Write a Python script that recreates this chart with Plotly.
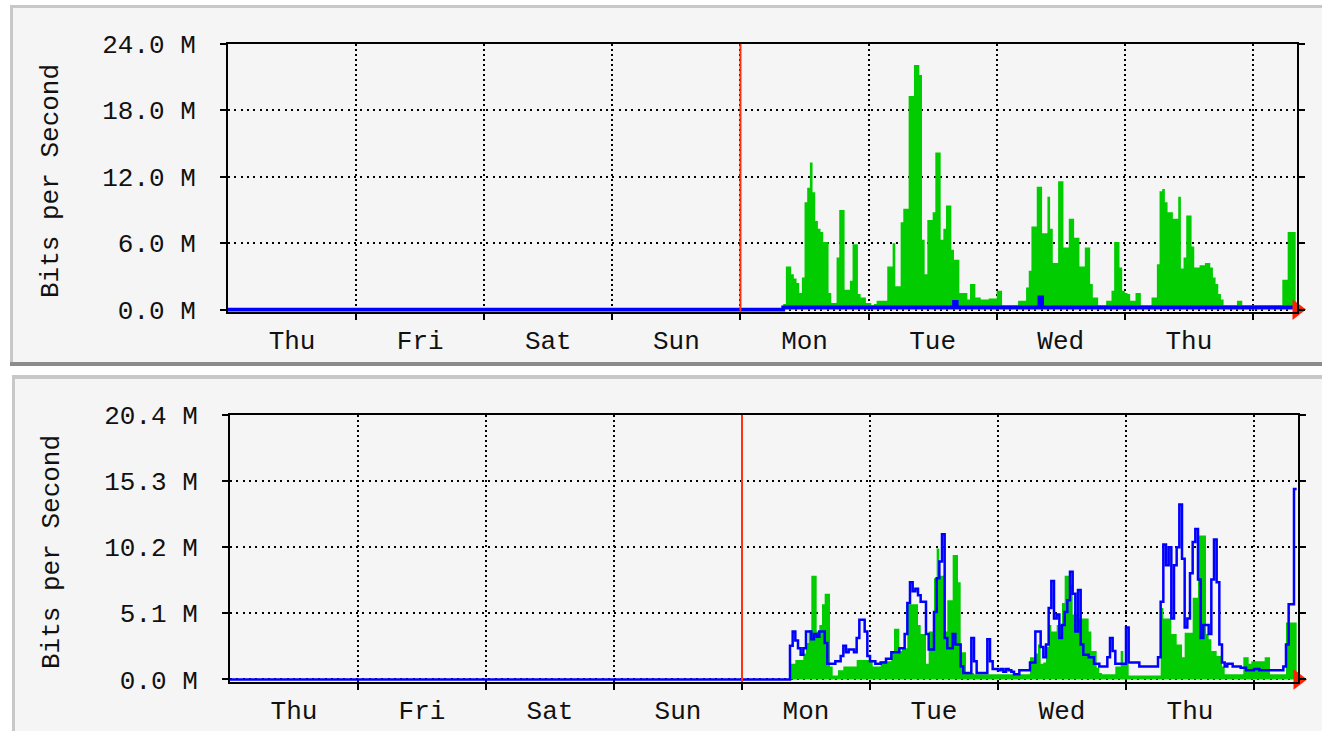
import plotly.graph_objects as go

# ---------------- data ----------------
W, H = 1322, 731
DAY_LABELS = ["Thu", "Fri", "Sat", "Sun", "Mon", "Tue", "Wed", "Thu"]
DAY_CENTERS = [12, 36, 60, 84, 108, 132, 156, 180]
DAY_BOUNDARIES = [24, 48, 72, 96, 120, 144, 168, 192]
SAMPLE_HOURS = 0.5          # 30-minute averages
IDLE_HOURS = 104            # no traffic recorded before this point
WEEK_START_HOUR = 96        # red week-start marker (Mon 00:00)
X_END = 200.25

top_tickvals = [0, 6, 12, 18, 24]
top_ticktext = ["0.0 M", "6.0 M", "12.0 M", "18.0 M", "24.0 M"]
bot_tickvals = [0, 5.1, 10.2, 15.3, 20.4]
bot_ticktext = ["0.0 M", "5.1 M", "10.2 M", "15.3 M", "20.4 M"]

# Mbit/s, one value per 30 min, starting at IDLE_HOURS
top_in = [
    0.5, 3.9, 3.9, 3.2, 2.8, 2.4, 1.5, 2.9, 9.7, 11.0, 13.3, 10.6, 8.0, 7.3, 7.0, 6.1,
    6.1, 1.5, 0.6, 0.6, 4.7, 9.0, 9.0, 1.8, 1.8, 2.6, 5.9, 5.9, 1.4, 1.1, 1.1, 0.6,
    0.6, 0.4, 0.5, 0.8, 0.8, 0.8, 0.8, 3.9, 3.9, 6.0, 2.1, 2.1, 7.9, 9.1, 9.1, 19.3,
    19.3, 22.1, 22.1, 21.2, 6.3, 3.2, 8.1, 8.1, 8.8, 14.2, 14.2, 6.3, 7.3, 9.4, 9.4, 5.4,
    4.5, 4.5, 1.5, 1.5, 1.5, 0.9, 2.3, 2.3, 1.1, 1.1, 0.9, 0.9, 0.9, 1.0, 1.0, 1.0,
    1.7, 1.7, 0.4, 0.4, 0.4, 0.4, 0.4, 0.4, 0.8, 0.8, 0.8, 2.0, 3.5, 7.5, 7.5, 11.1,
    11.1, 6.9, 6.9, 10.2, 7.3, 4.2, 4.2, 11.6, 11.6, 5.6, 5.6, 8.2, 8.2, 6.5, 6.5, 3.9,
    3.9, 5.6, 5.6, 2.3, 1.1, 1.1, 0.4, 0.4, 0.4, 0.8, 0.8, 1.7, 6.1, 6.1, 3.8, 1.7,
    1.5, 1.4, 0.8, 0.8, 1.5, 1.5, 0.4, 0.4, 0.4, 0.4, 1.1, 1.1, 4.1, 10.7, 10.9, 9.7,
    8.8, 8.8, 8.2, 8.2, 10.2, 3.7, 4.7, 8.5, 8.5, 5.7, 3.8, 3.8, 4.0, 4.0, 4.2, 4.2,
    3.8, 2.9, 2.3, 1.4, 0.9, 0.4, 0.4, 0.4, 0.4, 0.4, 0.8, 0.8, 0.4, 0.4, 0.4, 0.4,
    0.4, 0.4, 0.4, 0.4, 0.4, 0.4, 0.4, 0.4, 0.4, 0.4, 0.4, 2.7, 2.7, 7.0, 7.0, 7.0,
]
top_out = [0.2] * 64 + [0.7] + [0.2] * 31 + [1.1] + [0.2] * 95

bot_in = [
    0.0, 0.0, 1.2, 1.2, 1.5, 1.5, 1.5, 2.0, 2.8, 3.8, 8.0, 8.0, 3.7, 4.2, 5.8, 6.6,
    6.6, 1.0, 0.3, 0.3, 0.7, 0.7, 1.0, 1.0, 1.0, 1.0, 1.0, 1.5, 1.5, 1.5, 1.5, 1.5,
    1.5, 1.0, 1.0, 1.0, 1.4, 1.4, 1.4, 1.4, 2.2, 3.9, 3.9, 2.2, 2.4, 2.4, 5.8, 5.8,
    5.8, 5.8, 4.2, 3.5, 3.5, 1.2, 3.7, 3.7, 7.8, 10.1, 8.0, 8.0, 3.7, 6.1, 6.1, 9.6,
    9.6, 7.5, 2.1, 2.1, 0.5, 0.5, 0.5, 0.4, 0.4, 0.4, 0.4, 0.4, 0.4, 0.4, 0.4, 0.4,
    0.4, 0.4, 0.4, 0.4, 0.4, 0.4, 0.4, 0.4, 0.4, 0.4, 0.4, 0.4, 1.7, 1.7, 2.0, 2.7,
    1.2, 1.3, 2.5, 4.2, 3.7, 3.7, 4.2, 4.2, 5.9, 8.0, 8.0, 7.3, 5.0, 5.0, 4.7, 4.7,
    4.7, 4.7, 3.7, 2.2, 2.2, 0.9, 0.5, 0.4, 0.4, 0.4, 0.4, 0.4, 1.0, 1.0, 2.2, 1.2,
    1.2, 0.3, 0.3, 0.3, 0.3, 0.3, 0.3, 0.3, 0.3, 0.3, 0.3, 0.3, 0.3, 5.5, 4.7, 4.7,
    4.7, 3.5, 3.5, 2.7, 2.7, 1.7, 3.6, 3.6, 3.6, 6.3, 6.3, 11.1, 11.1, 11.1, 3.5, 3.1,
    2.2, 2.2, 1.8, 1.8, 1.0, 0.4, 0.4, 0.4, 0.4, 0.4, 0.4, 0.4, 1.7, 1.7, 1.2, 1.4,
    1.4, 1.4, 1.4, 1.4, 1.7, 1.7, 0.4, 0.4, 0.4, 0.4, 0.4, 0.4, 4.4, 4.4, 4.4, 4.4,
]
bot_out = [
    0.0, 0.0, 2.6, 3.7, 3.0, 2.4, 1.9, 2.4, 3.7, 3.7, 3.1, 3.5, 3.3, 3.7, 3.7, 2.8,
    1.2, 1.2, 1.2, 1.4, 1.4, 1.8, 2.6, 2.1, 2.3, 2.3, 2.1, 3.2, 4.6, 4.6, 3.7, 1.8,
    1.4, 1.4, 1.2, 1.2, 1.3, 1.3, 1.6, 1.6, 2.1, 2.1, 2.1, 2.4, 2.4, 3.5, 5.9, 7.5,
    6.8, 7.0, 6.5, 6.0, 6.0, 3.5, 2.3, 2.3, 5.2, 7.8, 9.1, 11.2, 3.2, 2.4, 2.4, 3.5,
    2.7, 2.7, 1.0, 0.5, 0.5, 0.5, 3.2, 1.4, 0.5, 0.5, 0.5, 0.5, 3.1, 1.4, 0.8, 0.8,
    0.7, 0.8, 0.6, 0.8, 0.7, 0.6, 0.4, 0.4, 0.7, 0.7, 0.7, 0.7, 1.3, 1.3, 3.7, 3.7,
    2.5, 1.7, 2.7, 5.5, 7.6, 4.7, 5.0, 3.2, 4.2, 5.2, 6.1, 8.3, 6.6, 3.7, 6.9, 2.7,
    1.9, 1.9, 1.7, 1.7, 1.2, 1.2, 1.0, 1.0, 1.0, 1.7, 3.2, 2.2, 1.2, 1.2, 1.2, 1.2,
    4.0, 1.3, 1.3, 1.3, 1.3, 1.0, 1.0, 1.0, 1.0, 1.0, 1.0, 1.0, 1.7, 6.0, 10.4, 8.8,
    10.2, 4.7, 8.8, 10.2, 13.5, 9.3, 4.0, 4.7, 8.2, 10.6, 11.6, 7.7, 3.2, 4.2, 4.2, 3.5,
    7.7, 10.8, 7.5, 2.7, 1.3, 1.0, 1.2, 1.2, 1.0, 1.0, 1.0, 0.9, 0.9, 0.7, 0.7, 0.7,
    0.8, 0.8, 0.7, 0.7, 0.7, 0.7, 0.7, 0.7, 0.7, 0.7, 0.7, 1.0, 2.7, 5.8, 5.8, 14.7,
]

# ---------------- styling ----------------
FONT = dict(family="Liberation Mono, DejaVu Sans Mono, monospace", size=26, color="#111111")
GREEN = "#00cc00"
BLUE = "#0000ff"
RED = "#ff3311"
BG = "#f5f5f5"


def px(x):
    return x / W


def py(y):
    return 1 - y / H


def series(vals):
    n_idle = int(IDLE_HOURS / SAMPLE_HOURS)
    y = [0.0] * n_idle + list(vals)
    x = [i * SAMPLE_HOURS for i in range(len(y) + 1)]
    y = y + [y[-1]]
    return x, y


fig = go.Figure()

panels = [
    dict(xa="x", ya="y", vin=top_in, vout=top_out, out_w=3.8),
    dict(xa="x2", ya="y2", vin=bot_in, vout=bot_out, out_w=2.5),
]
for p in panels:
    xi, yi = series(p["vin"])
    xo, yo = series(p["vout"])
    fig.add_trace(go.Scatter(x=xi, y=yi, xaxis=p["xa"], yaxis=p["ya"], mode="lines",
                             line=dict(shape="hv", width=0, color=GREEN),
                             fill="tozeroy", fillcolor=GREEN, hoverinfo="skip",
                             showlegend=False))
    fig.add_trace(go.Scatter(x=xo, y=yo, xaxis=p["xa"], yaxis=p["ya"], mode="lines",
                             line=dict(shape="hv", width=p["out_w"], color=BLUE),
                             hoverinfo="skip", showlegend=False))
    # red arrow at the end of the time axis
    fig.add_trace(go.Scatter(x=[X_END], y=[0], xaxis=p["xa"], yaxis=p["ya"], mode="markers",
                             marker=dict(symbol="triangle-right", size=18, color="#ff2200"),
                             cliponaxis=False, hoverinfo="skip", showlegend=False))


def xaxis_cfg(domain, anchor):
    return dict(
        domain=domain, range=[0, X_END], tickmode="array", tickvals=DAY_CENTERS,
        ticktext=DAY_LABELS, ticks="", showgrid=False, zeroline=False,
        showline=True, linecolor="black", linewidth=2, mirror=True,
        tickfont=FONT, ticklabelstandoff=4, fixedrange=True, automargin=False,
        anchor=anchor,
        minor=dict(tickmode="array", tickvals=DAY_BOUNDARIES, showgrid=True,
                   gridcolor="#000000", griddash="2px,3px", gridwidth=1.8,
                   ticks="outside", ticklen=6, tickwidth=2, tickcolor="black"),
    )


def yaxis_cfg(domain, rng, tv, tt, anchor):
    return dict(
        domain=domain, range=rng, tickmode="array", tickvals=tv, ticktext=tt,
        ticks="outside", ticklen=6, tickwidth=2, tickcolor="black",
        showgrid=True, gridcolor="#000000", griddash="2px,4.3px", gridwidth=1.8,
        zeroline=False, showline=True, linecolor="black", linewidth=2, mirror="ticks",
        tickfont=FONT, ticklabelstandoff=19, anchor=anchor, fixedrange=True,
        automargin=False,
    )


shapes = []


def rect(x0, y0, x1, y1, color):
    shapes.append(dict(type="rect", xref="paper", yref="paper", layer="below",
                       x0=px(x0), x1=px(x1), y0=py(y1), y1=py(y0),
                       fillcolor=color, line=dict(width=0)))


# panel backgrounds with bevelled borders
rect(10, 5, W, 366, BG)
rect(10, 5, W, 8, "#c8c8c8")
rect(10, 5, 13, 366, "#c8c8c8")
rect(10, 362, W, 366, "#8c8c8c")
rect(12, 375, W, H, BG)
rect(12, 375, W, 379, "#c8c8c8")
rect(12, 375, 15, H, "#c8c8c8")

# week-start marker
for xa, ya in (("x", "y"), ("x2", "y2")):
    shapes.append(dict(type="line", xref=xa, yref=f"{ya} domain", x0=WEEK_START_HOUR,
                       x1=WEEK_START_HOUR, y0=0, y1=1, layer="above",
                       line=dict(color=RED, width=2)))

annotations = [
    dict(text="Bits per Second", xref="paper", yref="paper", x=px(51), y=py(181),
         textangle=-90, showarrow=False, xanchor="center", yanchor="middle", font=FONT),
    dict(text="Bits per Second", xref="paper", yref="paper", x=px(52), y=py(552),
         textangle=-90, showarrow=False, xanchor="center", yanchor="middle", font=FONT),
]

fig.update_layout(
    template="none",
    width=W, height=H, margin=dict(l=0, r=0, t=0, b=0, pad=0, autoexpand=False),
    paper_bgcolor="white", plot_bgcolor="rgba(0,0,0,0)",
    xaxis=xaxis_cfg([px(228), px(1297)], "y"),
    yaxis=yaxis_cfg([py(312), py(44)], [-0.22, 24.0], top_tickvals, top_ticktext, "x"),
    xaxis2=xaxis_cfg([px(230), px(1298)], "y2"),
    yaxis2=yaxis_cfg([py(682), py(415)], [-0.2, 20.4], bot_tickvals, bot_ticktext, "x2"),
    shapes=shapes, annotations=annotations, showlegend=False,
)

fig.write_html("out.html", config={"displayModeBar": False},
               post_script="document.body.style.margin='0';document.body.style.overflow='hidden';")
